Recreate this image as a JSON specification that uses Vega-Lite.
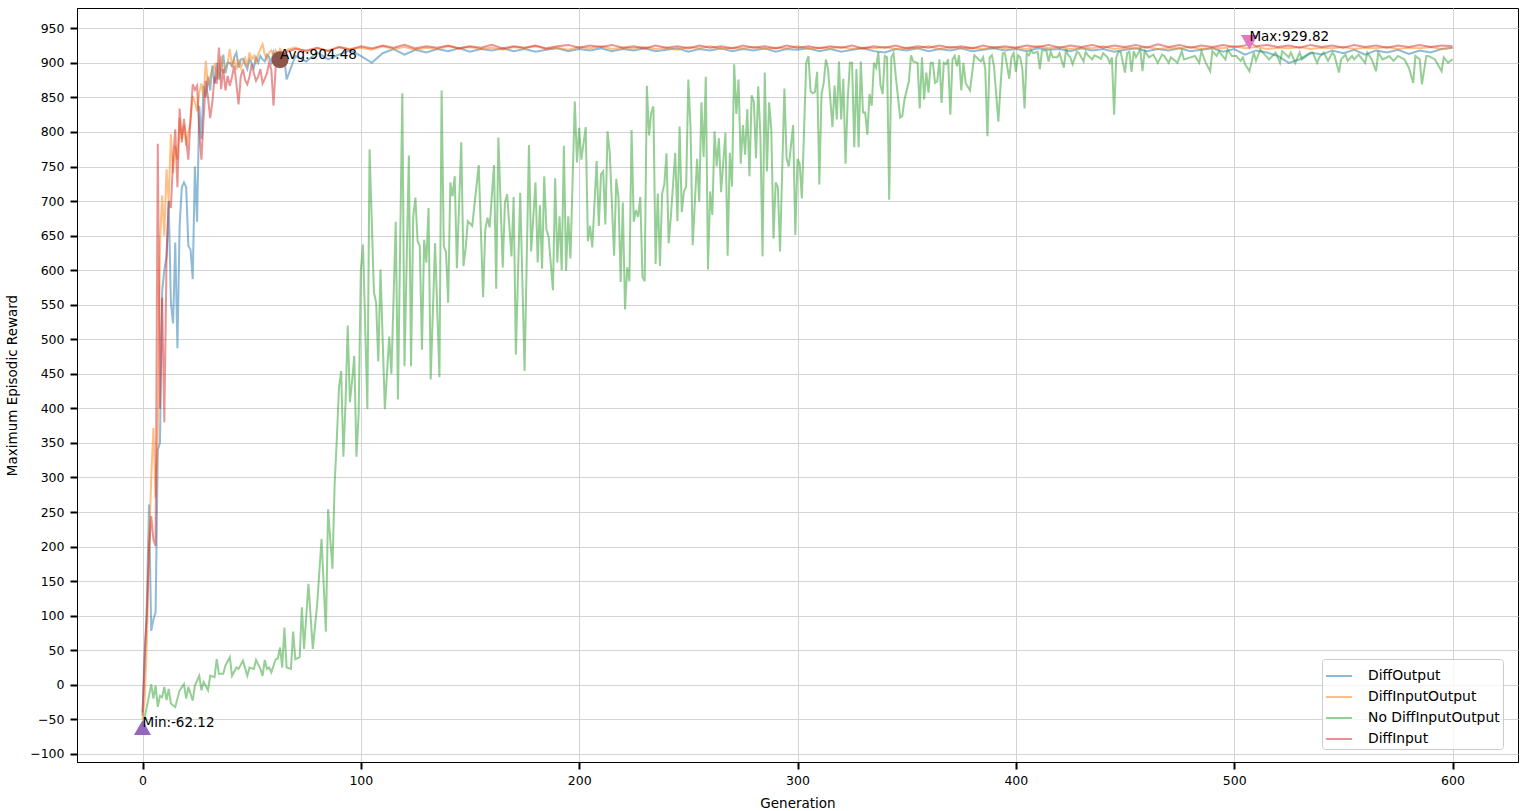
{
 "$schema": "https://vega.github.io/schema/vega-lite/v6.json",
 "width": 1441, "height": 754,
 "autosize": {"type": "none"},
 "padding": {"left": 77, "top": 8, "right": 15, "bottom": 49},
 "background": "white",
 "config": {
  "font": "DejaVu Sans",
  "view": {"stroke": "black", "strokeWidth": 1},
  "axis": {"labelFont": "DejaVu Sans", "labelFontSize": 12.5, "labelColor": "black", "titleFont": "DejaVu Sans", "titleFontSize": 13.5, "titleFontWeight": "normal", "titleColor": "black", "tickColor": "black", "tickSize": 7, "tickWidth": 2, "domainColor": "black", "domainWidth": 1, "gridColor": "#d3d3d3", "gridWidth": 1, "grid": true},
  "legend": {"labelFont": "DejaVu Sans", "labelFontSize": 13.9, "labelColor": "black"}
 },
 "datasets": {
  "d1": [{"g":0,"r":-45},{"g":1,"r":30},{"g":2,"r":120},{"g":3,"r":261},{"g":4,"r":78},{"g":5,"r":95},{"g":6,"r":105},{"g":7,"r":340},{"g":8,"r":350},{"g":9,"r":570},{"g":10,"r":600},{"g":11,"r":620},{"g":12,"r":700},{"g":13,"r":553},{"g":14,"r":523},{"g":15,"r":640},{"g":16,"r":487},{"g":17,"r":664},{"g":18,"r":720},{"g":19,"r":727},{"g":20,"r":720},{"g":21,"r":635},{"g":22,"r":630},{"g":23,"r":587},{"g":24,"r":750},{"g":25,"r":670},{"g":26,"r":838},{"g":27,"r":790},{"g":28,"r":867},{"g":29,"r":850},{"g":30,"r":880},{"g":31,"r":860},{"g":32,"r":896},{"g":33,"r":870},{"g":34,"r":900},{"g":35,"r":876},{"g":36,"r":890},{"g":37,"r":912},{"g":38,"r":885},{"g":39,"r":900},{"g":40,"r":900},{"g":41,"r":895},{"g":42,"r":908},{"g":43,"r":915},{"g":44,"r":893},{"g":45,"r":905},{"g":46,"r":906},{"g":47,"r":898},{"g":48,"r":891},{"g":49,"r":905},{"g":50,"r":900},{"g":51,"r":893},{"g":52,"r":908},{"g":53,"r":900},{"g":54,"r":910},{"g":55,"r":905},{"g":56,"r":902},{"g":57,"r":912},{"g":58,"r":908},{"g":59,"r":900},{"g":60,"r":915},{"g":61,"r":905},{"g":62,"r":910},{"g":63,"r":900},{"g":64,"r":912},{"g":65,"r":905},{"g":66,"r":876},{"g":70,"r":910},{"g":75,"r":902},{"g":80,"r":915},{"g":85,"r":905},{"g":90,"r":912},{"g":95,"r":918},{"g":100,"r":910},{"g":105,"r":900},{"g":110,"r":914},{"g":115,"r":920},{"g":120,"r":912},{"g":125,"r":919},{"g":130,"r":915},{"g":135,"r":920},{"g":140,"r":917},{"g":145,"r":921},{"g":150,"r":916},{"g":155,"r":920},{"g":160,"r":918},{"g":165,"r":921},{"g":170,"r":917},{"g":175,"r":920},{"g":180,"r":916},{"g":185,"r":919},{"g":190,"r":921},{"g":195,"r":917},{"g":200,"r":920},{"g":205,"r":918},{"g":210,"r":921},{"g":215,"r":917},{"g":220,"r":920},{"g":225,"r":918},{"g":230,"r":921},{"g":235,"r":917},{"g":240,"r":919},{"g":245,"r":921},{"g":250,"r":916},{"g":255,"r":920},{"g":260,"r":918},{"g":265,"r":921},{"g":270,"r":917},{"g":275,"r":920},{"g":280,"r":918},{"g":285,"r":921},{"g":290,"r":916},{"g":295,"r":920},{"g":300,"r":919},{"g":305,"r":921},{"g":310,"r":917},{"g":315,"r":920},{"g":320,"r":916},{"g":325,"r":919},{"g":330,"r":921},{"g":335,"r":917},{"g":340,"r":915},{"g":345,"r":920},{"g":350,"r":918},{"g":355,"r":921},{"g":360,"r":917},{"g":365,"r":920},{"g":370,"r":918},{"g":375,"r":921},{"g":380,"r":917},{"g":385,"r":919},{"g":390,"r":921},{"g":395,"r":918},{"g":400,"r":920},{"g":405,"r":917},{"g":410,"r":921},{"g":415,"r":919},{"g":420,"r":920},{"g":425,"r":917},{"g":430,"r":921},{"g":435,"r":918},{"g":440,"r":920},{"g":445,"r":916},{"g":450,"r":919},{"g":455,"r":921},{"g":460,"r":917},{"g":465,"r":920},{"g":470,"r":918},{"g":475,"r":921},{"g":480,"r":917},{"g":485,"r":919},{"g":490,"r":921},{"g":495,"r":916},{"g":500,"r":920},{"g":505,"r":912},{"g":510,"r":918},{"g":515,"r":915},{"g":520,"r":910},{"g":525,"r":900},{"g":530,"r":905},{"g":535,"r":915},{"g":540,"r":912},{"g":545,"r":918},{"g":550,"r":914},{"g":555,"r":919},{"g":560,"r":912},{"g":565,"r":918},{"g":570,"r":915},{"g":575,"r":919},{"g":580,"r":913},{"g":585,"r":918},{"g":590,"r":915},{"g":595,"r":920},{"g":600,"r":922}],
  "d2": [{"g":0,"r":-50},{"g":1,"r":-20},{"g":2,"r":60},{"g":3,"r":200},{"g":4,"r":300},{"g":5,"r":372},{"g":6,"r":270},{"g":7,"r":360},{"g":8,"r":640},{"g":9,"r":708},{"g":10,"r":650},{"g":11,"r":746},{"g":12,"r":700},{"g":13,"r":797},{"g":14,"r":740},{"g":15,"r":780},{"g":16,"r":760},{"g":17,"r":820},{"g":18,"r":790},{"g":19,"r":810},{"g":20,"r":780},{"g":21,"r":800},{"g":22,"r":815},{"g":23,"r":852},{"g":24,"r":843},{"g":25,"r":830},{"g":26,"r":857},{"g":27,"r":870},{"g":28,"r":850},{"g":29,"r":903},{"g":30,"r":867},{"g":31,"r":880},{"g":32,"r":891},{"g":33,"r":897},{"g":34,"r":876},{"g":35,"r":890},{"g":36,"r":910},{"g":37,"r":885},{"g":38,"r":893},{"g":39,"r":900},{"g":40,"r":920},{"g":41,"r":895},{"g":42,"r":905},{"g":43,"r":890},{"g":44,"r":905},{"g":45,"r":893},{"g":46,"r":900},{"g":47,"r":907},{"g":48,"r":895},{"g":49,"r":915},{"g":50,"r":905},{"g":51,"r":910},{"g":52,"r":898},{"g":53,"r":912},{"g":54,"r":920},{"g":55,"r":927},{"g":56,"r":912},{"g":57,"r":905},{"g":58,"r":915},{"g":59,"r":918},{"g":60,"r":910},{"g":61,"r":918},{"g":62,"r":912},{"g":63,"r":920},{"g":64,"r":915},{"g":65,"r":918},{"g":70,"r":922},{"g":75,"r":916},{"g":80,"r":921},{"g":85,"r":918},{"g":90,"r":923},{"g":95,"r":920},{"g":100,"r":922},{"g":105,"r":919},{"g":110,"r":924},{"g":115,"r":920},{"g":120,"r":923},{"g":125,"r":919},{"g":130,"r":922},{"g":135,"r":920},{"g":140,"r":924},{"g":145,"r":921},{"g":150,"r":923},{"g":155,"r":920},{"g":160,"r":922},{"g":165,"r":919},{"g":170,"r":923},{"g":175,"r":921},{"g":180,"r":924},{"g":185,"r":920},{"g":190,"r":922},{"g":195,"r":919},{"g":200,"r":923},{"g":205,"r":921},{"g":210,"r":924},{"g":215,"r":920},{"g":220,"r":922},{"g":225,"r":921},{"g":230,"r":923},{"g":235,"r":920},{"g":240,"r":922},{"g":245,"r":919},{"g":250,"r":923},{"g":255,"r":921},{"g":260,"r":924},{"g":265,"r":920},{"g":270,"r":922},{"g":275,"r":921},{"g":280,"r":923},{"g":285,"r":920},{"g":290,"r":922},{"g":295,"r":921},{"g":300,"r":924},{"g":305,"r":920},{"g":310,"r":922},{"g":315,"r":921},{"g":320,"r":923},{"g":325,"r":920},{"g":330,"r":922},{"g":335,"r":921},{"g":340,"r":923},{"g":345,"r":920},{"g":350,"r":922},{"g":355,"r":921},{"g":360,"r":924},{"g":365,"r":920},{"g":370,"r":923},{"g":375,"r":921},{"g":380,"r":922},{"g":385,"r":920},{"g":390,"r":923},{"g":395,"r":921},{"g":400,"r":922},{"g":405,"r":920},{"g":410,"r":924},{"g":415,"r":921},{"g":420,"r":923},{"g":425,"r":920},{"g":430,"r":922},{"g":435,"r":921},{"g":440,"r":924},{"g":445,"r":920},{"g":450,"r":922},{"g":455,"r":921},{"g":460,"r":923},{"g":465,"r":920},{"g":470,"r":922},{"g":475,"r":921},{"g":480,"r":923},{"g":485,"r":920},{"g":490,"r":922},{"g":495,"r":921},{"g":500,"r":924},{"g":505,"r":921},{"g":510,"r":923},{"g":515,"r":920},{"g":520,"r":922},{"g":525,"r":921},{"g":530,"r":923},{"g":535,"r":920},{"g":540,"r":922},{"g":545,"r":921},{"g":550,"r":923},{"g":555,"r":920},{"g":560,"r":922},{"g":565,"r":921},{"g":570,"r":923},{"g":575,"r":920},{"g":580,"r":922},{"g":585,"r":921},{"g":590,"r":923},{"g":595,"r":920},{"g":600,"r":922}],
  "d3": [{"g":0,"r":-62.12},{"g":3,"r":-16},{"g":4,"r":1},{"g":5,"r":-20},{"g":6,"r":-1},{"g":7,"r":-32},{"g":8,"r":-16},{"g":9,"r":-18},{"g":10,"r":-3},{"g":11,"r":-22},{"g":12,"r":-6},{"g":13,"r":-27},{"g":15,"r":-32},{"g":17,"r":-8},{"g":19,"r":1},{"g":20,"r":-20},{"g":21,"r":-3},{"g":23,"r":-23},{"g":24,"r":-1},{"g":26,"r":13},{"g":27,"r":-8},{"g":28,"r":4},{"g":30,"r":-8},{"g":31,"r":13},{"g":33,"r":11},{"g":34,"r":37},{"g":35,"r":16},{"g":37,"r":16},{"g":38,"r":28},{"g":40,"r":40},{"g":41,"r":13},{"g":43,"r":25},{"g":44,"r":23},{"g":46,"r":35},{"g":48,"r":13},{"g":49,"r":25},{"g":51,"r":23},{"g":52,"r":36},{"g":54,"r":23},{"g":55,"r":13},{"g":56,"r":36},{"g":57,"r":23},{"g":58,"r":25},{"g":59,"r":18},{"g":61,"r":37},{"g":62,"r":38},{"g":63,"r":54},{"g":64,"r":25},{"g":65,"r":83},{"g":66,"r":25},{"g":68,"r":23},{"g":69,"r":77},{"g":70,"r":37},{"g":72,"r":40},{"g":73,"r":112},{"g":74,"r":52},{"g":76,"r":146},{"g":78,"r":52},{"g":80,"r":116},{"g":82,"r":211},{"g":84,"r":77},{"g":85,"r":254},{"g":86,"r":210},{"g":87,"r":168},{"g":88,"r":290},{"g":89,"r":356},{"g":90,"r":430},{"g":91,"r":454},{"g":92,"r":330},{"g":93,"r":409},{"g":94,"r":520},{"g":95,"r":409},{"g":96,"r":440},{"g":97,"r":476},{"g":98,"r":330},{"g":99,"r":392},{"g":100,"r":600},{"g":101,"r":637},{"g":103,"r":399},{"g":104,"r":775},{"g":106,"r":568},{"g":107,"r":553},{"g":108,"r":468},{"g":109,"r":601},{"g":111,"r":399},{"g":113,"r":504},{"g":114,"r":450},{"g":116,"r":670},{"g":117,"r":413},{"g":119,"r":856},{"g":120,"r":461},{"g":122,"r":766},{"g":123,"r":461},{"g":124,"r":678},{"g":125,"r":705},{"g":126,"r":642},{"g":127,"r":635},{"g":128,"r":485},{"g":129,"r":644},{"g":130,"r":611},{"g":131,"r":690},{"g":132,"r":442},{"g":134,"r":639},{"g":136,"r":445},{"g":137,"r":860},{"g":138,"r":635},{"g":139,"r":626},{"g":140,"r":553},{"g":141,"r":727},{"g":142,"r":707},{"g":143,"r":736},{"g":144,"r":603},{"g":146,"r":785},{"g":147,"r":606},{"g":148,"r":631},{"g":149,"r":671},{"g":151,"r":664},{"g":152,"r":693},{"g":154,"r":752},{"g":156,"r":561},{"g":157,"r":659},{"g":158,"r":676},{"g":159,"r":662},{"g":161,"r":752},{"g":162,"r":573},{"g":163,"r":792},{"g":165,"r":604},{"g":166,"r":698},{"g":167,"r":710},{"g":169,"r":620},{"g":170,"r":706},{"g":171,"r":478},{"g":173,"r":712},{"g":175,"r":454},{"g":177,"r":781},{"g":178,"r":627},{"g":180,"r":727},{"g":181,"r":611},{"g":182,"r":694},{"g":183,"r":602},{"g":184,"r":736},{"g":185,"r":659},{"g":186,"r":648},{"g":188,"r":571},{"g":189,"r":733},{"g":190,"r":611},{"g":191,"r":678},{"g":192,"r":600},{"g":193,"r":780},{"g":194,"r":599},{"g":195,"r":678},{"g":196,"r":617},{"g":198,"r":844},{"g":199,"r":756},{"g":200,"r":806},{"g":201,"r":760},{"g":203,"r":807},{"g":204,"r":642},{"g":205,"r":664},{"g":206,"r":633},{"g":208,"r":758},{"g":209,"r":664},{"g":210,"r":739},{"g":211,"r":743},{"g":212,"r":666},{"g":213,"r":801},{"g":214,"r":770},{"g":216,"r":621},{"g":217,"r":732},{"g":218,"r":705},{"g":219,"r":583},{"g":220,"r":698},{"g":221,"r":543},{"g":222,"r":604},{"g":223,"r":584},{"g":224,"r":803},{"g":225,"r":670},{"g":226,"r":687},{"g":227,"r":677},{"g":228,"r":706},{"g":229,"r":590},{"g":230,"r":584},{"g":231,"r":867},{"g":232,"r":795},{"g":233,"r":828},{"g":234,"r":837},{"g":235,"r":609},{"g":236,"r":711},{"g":237,"r":606},{"g":238,"r":711},{"g":239,"r":724},{"g":240,"r":769},{"g":241,"r":639},{"g":242,"r":678},{"g":244,"r":770},{"g":245,"r":671},{"g":246,"r":808},{"g":247,"r":684},{"g":248,"r":714},{"g":249,"r":721},{"g":250,"r":876},{"g":251,"r":808},{"g":252,"r":636},{"g":254,"r":761},{"g":255,"r":699},{"g":256,"r":843},{"g":257,"r":764},{"g":258,"r":880},{"g":259,"r":601},{"g":260,"r":714},{"g":261,"r":680},{"g":262,"r":801},{"g":263,"r":750},{"g":264,"r":791},{"g":265,"r":713},{"g":267,"r":799},{"g":268,"r":621},{"g":269,"r":770},{"g":270,"r":721},{"g":271,"r":898},{"g":272,"r":826},{"g":273,"r":876},{"g":274,"r":754},{"g":275,"r":810},{"g":276,"r":767},{"g":277,"r":833},{"g":278,"r":736},{"g":279,"r":853},{"g":280,"r":844},{"g":281,"r":762},{"g":282,"r":866},{"g":283,"r":795},{"g":284,"r":620},{"g":285,"r":886},{"g":286,"r":743},{"g":287,"r":843},{"g":288,"r":803},{"g":289,"r":646},{"g":290,"r":727},{"g":291,"r":720},{"g":292,"r":627},{"g":294,"r":863},{"g":295,"r":762},{"g":296,"r":750},{"g":298,"r":810},{"g":299,"r":651},{"g":300,"r":761},{"g":301,"r":754},{"g":302,"r":704},{"g":304,"r":900},{"g":305,"r":910},{"g":306,"r":859},{"g":307,"r":856},{"g":308,"r":858},{"g":309,"r":887},{"g":310,"r":724},{"g":311,"r":855},{"g":312,"r":871},{"g":313,"r":905},{"g":314,"r":891},{"g":316,"r":807},{"g":317,"r":867},{"g":318,"r":818},{"g":319,"r":902},{"g":320,"r":818},{"g":321,"r":877},{"g":322,"r":754},{"g":323,"r":847},{"g":324,"r":900},{"g":325,"r":900},{"g":326,"r":778},{"g":327,"r":891},{"g":328,"r":778},{"g":329,"r":902},{"g":330,"r":828},{"g":331,"r":828},{"g":332,"r":796},{"g":333,"r":855},{"g":334,"r":838},{"g":335,"r":900},{"g":336,"r":893},{"g":337,"r":916},{"g":338,"r":868},{"g":339,"r":855},{"g":340,"r":910},{"g":341,"r":908},{"g":342,"r":702},{"g":343,"r":908},{"g":344,"r":914},{"g":345,"r":881},{"g":347,"r":821},{"g":348,"r":823},{"g":349,"r":847},{"g":351,"r":873},{"g":352,"r":911},{"g":353,"r":902},{"g":355,"r":900},{"g":356,"r":834},{"g":357,"r":908},{"g":358,"r":847},{"g":359,"r":886},{"g":360,"r":857},{"g":361,"r":900},{"g":362,"r":900},{"g":363,"r":871},{"g":364,"r":873},{"g":365,"r":905},{"g":366,"r":842},{"g":367,"r":900},{"g":368,"r":898},{"g":369,"r":905},{"g":370,"r":825},{"g":371,"r":905},{"g":372,"r":910},{"g":373,"r":895},{"g":374,"r":911},{"g":375,"r":860},{"g":376,"r":900},{"g":377,"r":871},{"g":379,"r":860},{"g":380,"r":886},{"g":381,"r":911},{"g":382,"r":908},{"g":383,"r":905},{"g":384,"r":902},{"g":385,"r":908},{"g":386,"r":891},{"g":387,"r":794},{"g":388,"r":908},{"g":389,"r":911},{"g":390,"r":895},{"g":392,"r":815},{"g":393,"r":867},{"g":394,"r":914},{"g":395,"r":914},{"g":397,"r":877},{"g":398,"r":908},{"g":399,"r":914},{"g":400,"r":887},{"g":401,"r":911},{"g":402,"r":908},{"g":403,"r":891},{"g":404,"r":834},{"g":405,"r":914},{"g":406,"r":911},{"g":407,"r":918},{"g":408,"r":914},{"g":410,"r":916},{"g":411,"r":891},{"g":412,"r":918},{"g":414,"r":918},{"g":415,"r":902},{"g":416,"r":916},{"g":417,"r":908},{"g":418,"r":908},{"g":419,"r":908},{"g":420,"r":914},{"g":422,"r":893},{"g":423,"r":920},{"g":424,"r":911},{"g":425,"r":908},{"g":426,"r":898},{"g":428,"r":916},{"g":429,"r":914},{"g":430,"r":908},{"g":431,"r":902},{"g":432,"r":916},{"g":433,"r":911},{"g":435,"r":905},{"g":436,"r":911},{"g":438,"r":908},{"g":439,"r":906},{"g":440,"r":914},{"g":442,"r":908},{"g":443,"r":900},{"g":444,"r":908},{"g":445,"r":825},{"g":446,"r":908},{"g":447,"r":916},{"g":448,"r":916},{"g":450,"r":886},{"g":451,"r":914},{"g":452,"r":916},{"g":453,"r":887},{"g":454,"r":917},{"g":455,"r":908},{"g":457,"r":920},{"g":458,"r":888},{"g":459,"r":917},{"g":461,"r":908},{"g":463,"r":912},{"g":465,"r":900},{"g":467,"r":912},{"g":468,"r":910},{"g":470,"r":900},{"g":471,"r":908},{"g":473,"r":903},{"g":474,"r":900},{"g":476,"r":917},{"g":477,"r":905},{"g":480,"r":908},{"g":482,"r":910},{"g":484,"r":900},{"g":485,"r":917},{"g":487,"r":900},{"g":489,"r":888},{"g":490,"r":917},{"g":492,"r":910},{"g":493,"r":917},{"g":496,"r":905},{"g":497,"r":919},{"g":499,"r":910},{"g":501,"r":910},{"g":503,"r":903},{"g":504,"r":908},{"g":505,"r":898},{"g":507,"r":888},{"g":509,"r":915},{"g":510,"r":903},{"g":512,"r":919},{"g":514,"r":912},{"g":516,"r":905},{"g":519,"r":915},{"g":521,"r":900},{"g":522,"r":917},{"g":525,"r":908},{"g":526,"r":915},{"g":528,"r":900},{"g":530,"r":915},{"g":531,"r":905},{"g":534,"r":912},{"g":536,"r":915},{"g":538,"r":900},{"g":539,"r":908},{"g":541,"r":915},{"g":543,"r":903},{"g":545,"r":915},{"g":546,"r":910},{"g":548,"r":886},{"g":549,"r":905},{"g":551,"r":912},{"g":552,"r":903},{"g":554,"r":910},{"g":555,"r":905},{"g":557,"r":912},{"g":558,"r":908},{"g":560,"r":900},{"g":561,"r":915},{"g":563,"r":905},{"g":565,"r":888},{"g":566,"r":915},{"g":568,"r":905},{"g":570,"r":908},{"g":571,"r":910},{"g":573,"r":903},{"g":575,"r":910},{"g":578,"r":905},{"g":580,"r":893},{"g":582,"r":871},{"g":583,"r":910},{"g":585,"r":905},{"g":586,"r":869},{"g":588,"r":910},{"g":589,"r":910},{"g":592,"r":905},{"g":595,"r":888},{"g":596,"r":908},{"g":598,"r":900},{"g":599,"r":903},{"g":600,"r":905}],
  "d4": [{"g":0,"r":-40},{"g":1,"r":50},{"g":2,"r":100},{"g":3,"r":200},{"g":4,"r":244},{"g":5,"r":210},{"g":6,"r":201},{"g":7,"r":783},{"g":8,"r":400},{"g":9,"r":560},{"g":10,"r":380},{"g":11,"r":615},{"g":12,"r":700},{"g":13,"r":690},{"g":14,"r":760},{"g":15,"r":804},{"g":16,"r":720},{"g":17,"r":834},{"g":18,"r":785},{"g":19,"r":819},{"g":20,"r":790},{"g":21,"r":760},{"g":22,"r":820},{"g":23,"r":869},{"g":24,"r":861},{"g":25,"r":867},{"g":26,"r":800},{"g":27,"r":760},{"g":28,"r":820},{"g":29,"r":874},{"g":30,"r":850},{"g":31,"r":820},{"g":32,"r":843},{"g":33,"r":880},{"g":34,"r":870},{"g":35,"r":922},{"g":36,"r":862},{"g":37,"r":891},{"g":38,"r":860},{"g":39,"r":881},{"g":40,"r":867},{"g":41,"r":880},{"g":42,"r":896},{"g":43,"r":870},{"g":44,"r":840},{"g":45,"r":880},{"g":46,"r":891},{"g":47,"r":875},{"g":48,"r":869},{"g":49,"r":880},{"g":50,"r":898},{"g":51,"r":885},{"g":52,"r":874},{"g":53,"r":880},{"g":54,"r":891},{"g":55,"r":870},{"g":56,"r":877},{"g":57,"r":885},{"g":58,"r":900},{"g":59,"r":890},{"g":60,"r":838},{"g":61,"r":895},{"g":62,"r":905},{"g":63,"r":910},{"g":64,"r":912},{"g":65,"r":915},{"g":70,"r":920},{"g":75,"r":918},{"g":80,"r":922},{"g":85,"r":917},{"g":90,"r":923},{"g":95,"r":919},{"g":100,"r":924},{"g":105,"r":921},{"g":110,"r":925},{"g":115,"r":922},{"g":120,"r":926},{"g":125,"r":921},{"g":130,"r":924},{"g":135,"r":922},{"g":140,"r":925},{"g":145,"r":921},{"g":150,"r":924},{"g":155,"r":922},{"g":160,"r":926},{"g":165,"r":921},{"g":170,"r":924},{"g":175,"r":922},{"g":180,"r":925},{"g":185,"r":921},{"g":190,"r":924},{"g":195,"r":926},{"g":200,"r":922},{"g":205,"r":925},{"g":210,"r":923},{"g":215,"r":926},{"g":220,"r":922},{"g":225,"r":924},{"g":230,"r":921},{"g":235,"r":925},{"g":240,"r":922},{"g":245,"r":924},{"g":250,"r":921},{"g":255,"r":925},{"g":260,"r":922},{"g":265,"r":924},{"g":270,"r":921},{"g":275,"r":925},{"g":280,"r":922},{"g":285,"r":924},{"g":290,"r":921},{"g":295,"r":925},{"g":300,"r":922},{"g":305,"r":924},{"g":310,"r":921},{"g":315,"r":924},{"g":320,"r":922},{"g":325,"r":925},{"g":330,"r":921},{"g":335,"r":924},{"g":340,"r":922},{"g":345,"r":925},{"g":350,"r":921},{"g":355,"r":924},{"g":360,"r":922},{"g":365,"r":925},{"g":370,"r":922},{"g":375,"r":924},{"g":380,"r":921},{"g":385,"r":925},{"g":390,"r":922},{"g":395,"r":924},{"g":400,"r":922},{"g":405,"r":925},{"g":410,"r":923},{"g":415,"r":926},{"g":420,"r":922},{"g":425,"r":925},{"g":430,"r":923},{"g":435,"r":926},{"g":440,"r":922},{"g":445,"r":925},{"g":450,"r":923},{"g":455,"r":926},{"g":460,"r":922},{"g":465,"r":927},{"g":470,"r":923},{"g":475,"r":926},{"g":480,"r":922},{"g":485,"r":925},{"g":490,"r":923},{"g":495,"r":926},{"g":500,"r":923},{"g":505,"r":925},{"g":507,"r":929.82},{"g":510,"r":924},{"g":515,"r":926},{"g":520,"r":923},{"g":525,"r":925},{"g":530,"r":922},{"g":535,"r":926},{"g":540,"r":923},{"g":545,"r":925},{"g":550,"r":922},{"g":555,"r":926},{"g":560,"r":923},{"g":565,"r":925},{"g":570,"r":922},{"g":575,"r":925},{"g":580,"r":923},{"g":585,"r":926},{"g":590,"r":923},{"g":595,"r":925},{"g":600,"r":924}],
  "stats": [{"g":0,"r":-62.12,"stat":"Min","label":"Min:-62.12"},{"g":63,"r":904.48,"stat":"Avg","label":"Avg:904.48"},{"g":507,"r":929.82,"stat":"Max","label":"Max:929.82"}]
 },
 "encoding": {
  "x": {"field": "g", "type": "quantitative", "scale": {"domain": [-30, 630], "nice": false, "zero": false}, "axis": {"title": "Generation", "values": [0,100,200,300,400,500,600], "labelPadding": 5.5, "titlePadding": 9}},
  "y": {"field": "r", "type": "quantitative", "scale": {"domain": [-111.7, 979.4], "nice": false, "zero": false}, "axis": {"title": "Maximum Episodic Reward", "values": [-100,-50,0,50,100,150,200,250,300,350,400,450,500,550,600,650,700,750,800,850,900,950], "labelExpr": "replace(datum.label, '-', '−')", "labelPadding": 6, "titlePadding": 10}}
 },
 "layer": [
  {"data": {"name": "d1"}, "mark": {"type": "line", "strokeWidth": 2, "opacity": 0.5},
   "encoding": {"color": {"datum": "DiffOutput", "type": "nominal",
     "scale": {"domain": ["DiffOutput", "DiffInputOutput", "No DiffInputOutput", "DiffInput"], "range": ["#1f77b4", "#ff7f0e", "#2ca02c", "#d62728"]},
     "legend": {"title": null, "orient": "none", "legendX": 1245, "legendY": 651, "symbolType": "stroke", "symbolSize": 676, "symbolStrokeWidth": 2, "symbolOpacity": 0.5, "labelOffset": 15, "padding": 3, "rowPadding": -4.5, "strokeColor": "#cccccc", "fillColor": "rgba(255,255,255,0.8)", "cornerRadius": 3, "labelLimit": 300}}}},
  {"data": {"name": "d2"}, "mark": {"type": "line", "strokeWidth": 2, "opacity": 0.5}, "encoding": {"color": {"datum": "DiffInputOutput", "type": "nominal"}}},
  {"data": {"name": "d3"}, "mark": {"type": "line", "strokeWidth": 2, "opacity": 0.5}, "encoding": {"color": {"datum": "No DiffInputOutput", "type": "nominal"}}},
  {"data": {"name": "d4"}, "mark": {"type": "line", "strokeWidth": 2, "opacity": 0.5}, "encoding": {"color": {"datum": "DiffInput", "type": "nominal"}}},
  {"data": {"name": "stats"}, "mark": {"type": "point", "filled": true, "opacity": 1, "size": 290},
   "encoding": {
    "shape": {"field": "stat", "type": "nominal", "scale": {"domain": ["Min", "Avg", "Max"], "range": ["triangle-up", "circle", "triangle-down"]}, "legend": null},
    "fill": {"field": "stat", "type": "nominal", "scale": {"domain": ["Min", "Avg", "Max"], "range": ["#9467bd", "#8c564b", "#e377c2"]}, "legend": null}}},
  {"data": {"name": "stats"}, "mark": {"type": "text", "align": "left", "baseline": "alphabetic", "fontSize": 13.5, "dy": -1, "color": "black", "font": "DejaVu Sans"},
   "encoding": {"text": {"field": "label", "type": "nominal"}}}
 ]
}
